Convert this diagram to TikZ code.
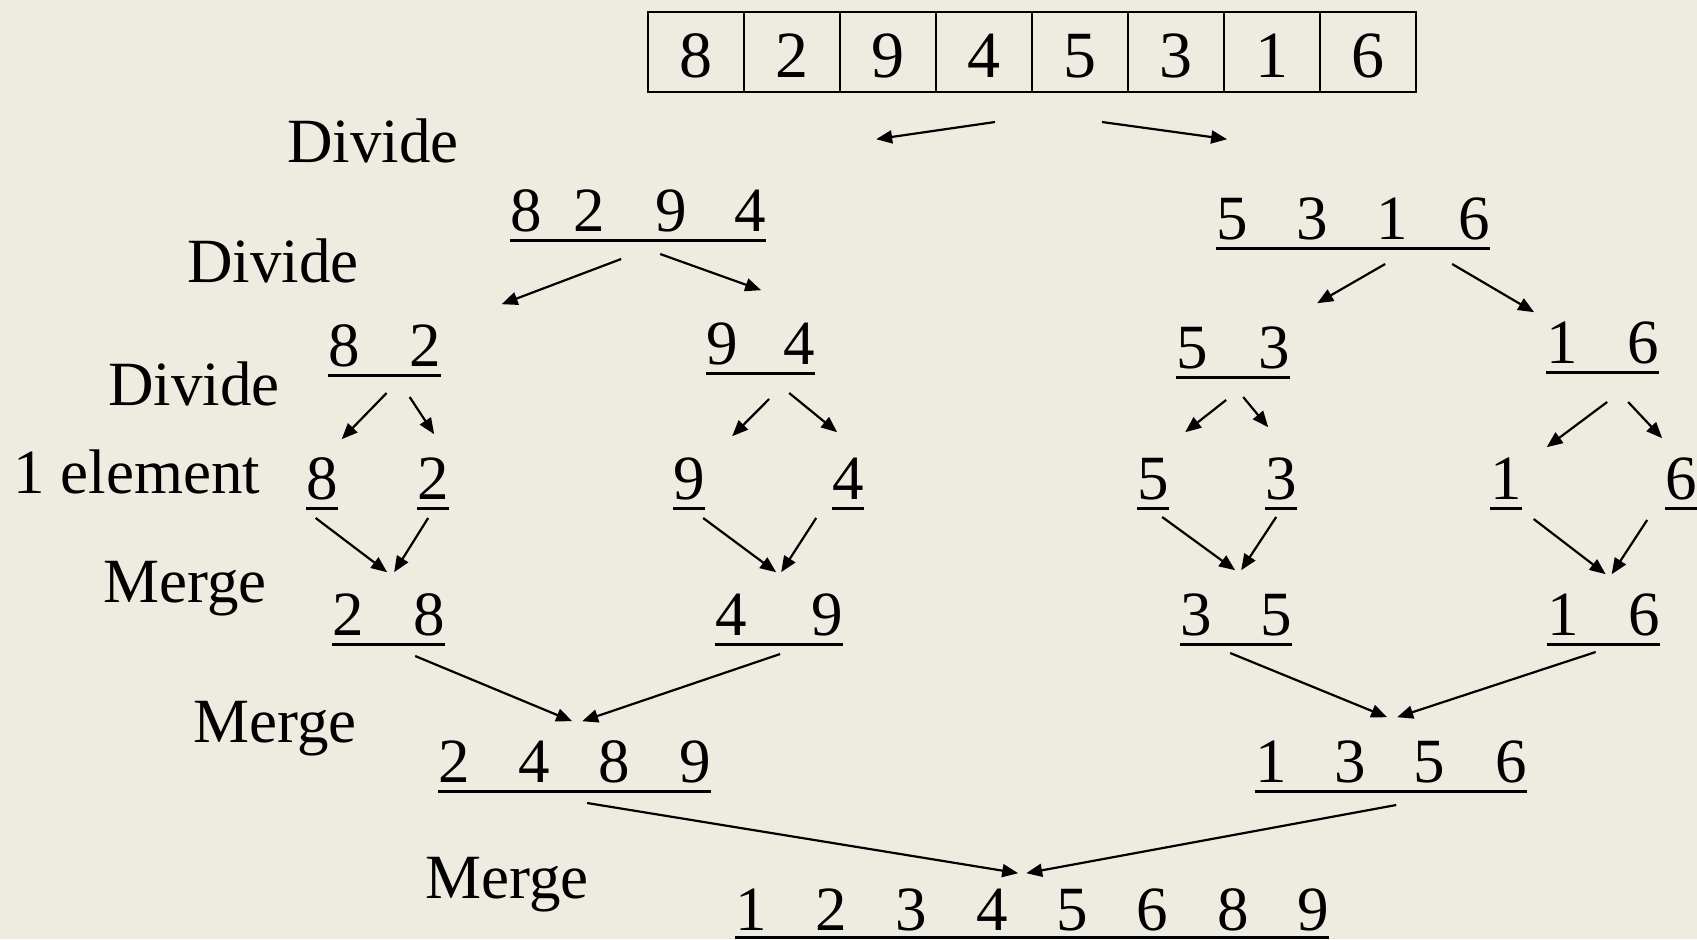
\documentclass[tikz,border=0pt]{standalone}
\usepackage{fontspec}
\setmainfont{Liberation Serif}
\usetikzlibrary{arrows.meta,calc}
\definecolor{bgcol}{RGB}{238,236,225}
\newcommand{\gp}[1]{\hspace*{#1pt}}
\begin{document}
\begin{tikzpicture}[x=0.5pt,y=-0.5pt,
  txt/.style={font=\fontsize{31.5pt}{36pt}\selectfont},
  lbl/.style={txt,inner sep=0pt,anchor=base west},
  grp/.style={txt,inner sep=0pt,text height=22pt,text depth=4pt,anchor=south west},
  cell/.style={draw,line width=1pt,inner sep=0pt,minimum width=48pt,minimum height=40pt,
    text height=25pt,text depth=0pt,font=\fontsize{33pt}{36pt}\selectfont},
  ul/.style={line width=1.5pt},
  arr/.style={line width=1.1pt,-{Triangle[length=8pt,width=6.5pt]}}]
\fill[bgcol] (0,0) rectangle (1697,939);
\useasboundingbox (0,0) rectangle (1697,939);
% top array
\foreach \d [count=\i] in {8,2,9,4,5,3,1,6}{
  \node[cell] (b\i) at ({600+96*\i},52) {\d};
}
% labels
\node[lbl] (lab1) at (287,162) {Divide};
\node[lbl] (lab2) at (187,282) {Divide};
\node[lbl] (lab3) at (108,405) {Divide};
\node[lbl] (lab4) at (13,493) {1 element};
\node[lbl] (lab5) at (103,602) {Merge};
\node[lbl] (lab6) at (193,742) {Merge};
\node[lbl] (lab7) at (425,898) {Merge};
% level 1
\node[grp] (r1a) at (510,240) {8\gp{15.75}2\gp{25.25}9\gp{23.75}4};
\node[grp] (r1b) at (1216,248) {5\gp{24.25}3\gp{24.25}1\gp{25.25}6};
% level 2
\node[grp] (r2a) at (328,375) {8\gp{24.75}2};
\node[grp] (r2b) at (706,373) {9\gp{22.75}4};
\node[grp] (r2c) at (1176,377) {5\gp{25.25}3};
\node[grp] (r2d) at (1546,372) {1\gp{24.75}6};
% singles
\node[grp] (s8) at (306,508) {8};
\node[grp] (s2) at (417,508) {2};
\node[grp] (s9) at (673,508) {9};
\node[grp] (s4) at (832,508) {4};
\node[grp] (s5) at (1137,508) {5};
\node[grp] (s3) at (1265,508) {3};
\node[grp] (s1) at (1490,508) {1};
\node[grp] (s6) at (1665,508) {6};
% merge pairs
\node[grp] (m28) at (332,644) {2\gp{24.75}8};
\node[grp] (m49) at (715,644) {4\gp{32.25}9};
\node[grp] (m35) at (1180,644) {3\gp{24.25}5};
\node[grp] (m16) at (1547,644) {1\gp{24.75}6};
% merge fours
\node[grp] (q1) at (438,791) {2\gp{24.25}4\gp{24.25}8\gp{24.75}9};
\node[grp] (q2) at (1255,791) {1\gp{23.75}3\gp{23.75}5\gp{25.25}6};
% final
\node[grp,text depth=3pt] (fin) at (735,937) {1\gp{24.4}2\gp{24.4}3\gp{24.4}4\gp{24.4}5\gp{24.4}6\gp{24.4}8\gp{24.4}9};
% underlines
\foreach \n in {r1a,r1b,r2a,r2b,r2c,r2d,s8,s2,s9,s4,s5,s3,s1,s6,m28,m49,m35,m16,q1,q2,fin}{
  \draw[ul] (\n.south west) -- (\n.south east);
}
% divide arrows
\draw[arr] ($(b4.south east)+(-38,29)$) -- ($(r1a.north)+(238,-48)$);
\draw[arr] ($(b5.south west)+(71,29)$) -- ($(r1b.north)+(-126,-56)$);
\draw[arr] ($(r1a.south)+(-17,19)$) -- ($(r2a.north)+(117,-18)$);
\draw[arr] ($(r1a.south)+(22,14)$) -- ($(r2b.north)+(0.5,-30)$);
\draw[arr] ($(r1b.south)+(32,16)$) -- ($(r2c.north)+(84,-21)$);
\draw[arr] ($(r1b.south)+(99,16)$) -- ($(r2d.north)+(-68.5,-7)$);
\draw[arr] ($(r2a.south)+(2,18)$) -- ($(s8.north)+(19.5,-16)$);
\draw[arr] ($(r2a.south)+(25,22)$) -- ($(s2.north)+(1,-21)$);
\draw[arr] ($(r2b.south)+(8.5,26)$) -- ($(s9.north)+(43,-19)$);
\draw[arr] ($(r2b.south)+(28.5,20)$) -- ($(s4.north)+(-11,-23)$);
\draw[arr] ($(r2c.south)+(-7,23)$) -- ($(s5.north)+(32,-23)$);
\draw[arr] ($(r2c.south)+(10,20)$) -- ($(s3.north)+(-13,-28)$);
\draw[arr] ($(r2d.south)+(4.5,30)$) -- ($(s1.north)+(40.5,-8)$);
\draw[arr] ($(r2d.south)+(25.5,30)$) -- ($(s6.north)+(-19,-17)$);
% merge arrows
\draw[arr] ($(s8.south)+(-6.5,10)$) -- ($(m28.north)+(-1.5,-19)$);
\draw[arr] ($(s2.south)+(-5,10)$) -- ($(m28.north)+(5.5,-19)$);
\draw[arr] ($(s9.south)+(14,10)$) -- ($(m49.north)+(-3,-19)$);
\draw[arr] ($(s4.south)+(-32,10)$) -- ($(m49.north)+(2,-19)$);
\draw[arr] ($(s5.south)+(9,9)$) -- ($(m35.north)+(-1,-21)$);
\draw[arr] ($(s3.south)+(-5,9)$) -- ($(m35.north)+(5,-21)$);
\draw[arr] ($(s1.south)+(27.5,11)$) -- ($(m16.north)+(2,-17)$);
\draw[arr] ($(s6.south)+(-34,12)$) -- ($(m16.north)+(8,-17)$);
\draw[arr] ($(m28.south)+(26.5,12)$) -- ($(q1.north)+(-2.5,-17)$);
\draw[arr] ($(m49.south)+(1,10)$) -- ($(q1.north)+(7.5,-17)$);
\draw[arr] ($(m35.south)+(-6,9)$) -- ($(q2.north)+(-4,-21)$);
\draw[arr] ($(m16.south)+(-8,8)$) -- ($(q2.north)+(6,-21)$);
\draw[arr] ($(q1.south)+(12.5,12)$) -- ($(fin.north)+(-14,-13)$);
\draw[arr] ($(q2.south)+(5,14)$) -- ($(fin.north)+(-6,-13)$);
\end{tikzpicture}
\end{document}
